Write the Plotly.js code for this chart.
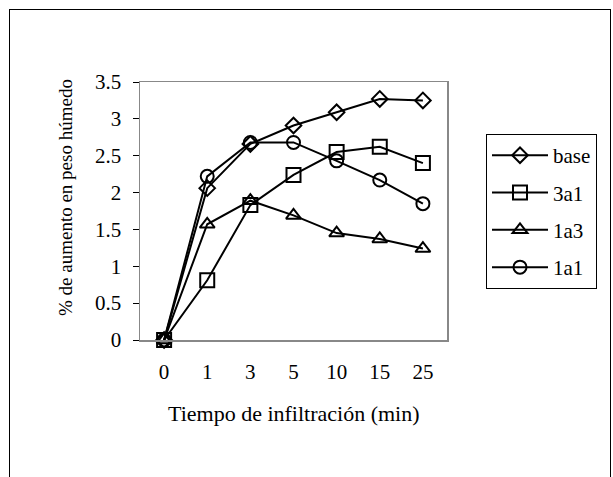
<!DOCTYPE html>
<html><head><meta charset="utf-8">
<script src="https://cdn.plot.ly/plotly-3.0.1.min.js"></script>
<style>
html,body{margin:0;padding:0;background:#fff;}
#frame{position:absolute;left:9px;top:9px;width:602px;height:480px;border:1px solid #000;box-sizing:border-box;}
#chart{position:absolute;left:0;top:0;width:613px;height:477px;}
</style></head>
<body>
<div id="frame"></div>
<div id="chart"></div>
<script>
var categories = ["0","1","3","5","10","15","25"];
var seriesNames = ["base","3a1","1a3","1a1"];
var base = [0, 2.06, 2.66, 2.91, 3.09, 3.27, 3.25];
var s3a1 = [0, 0.81, 1.83, 2.24, 2.55, 2.62, 2.40];
var s1a3 = [0, 1.57, 1.89, 1.69, 1.45, 1.37, 1.24];
var s1a1 = [0, 2.22, 2.68, 2.68, 2.43, 2.17, 1.85];
var yTicks = [0, 0.5, 1, 1.5, 2, 2.5, 3, 3.5];
var xTitle = "Tiempo de infiltración (min)";
var yTitle = "% de aumento en peso húmedo";

var seriesValues = [base, s3a1, s1a3, s1a1];
var symbols = ["diamond-open","square-open","triangle-up-open","circle-open"];
var sizes = [12, 14, 13, 13];
var font = "Liberation Serif, Times New Roman, serif";

var traces = seriesValues.map(function(v, i){
  return {
    x: categories, y: v, name: seriesNames[i], type: "scatter", mode: "lines+markers",
    legendgroup: "g"+i,
    line: {color: "#000", width: 2},
    marker: {symbol: symbols[i], size: sizes[i], color: "#000", line: {color: "#000", width: 2}},
    cliponaxis: false
  };
});

var layout = {
  width: 613, height: 477,
  paper_bgcolor: "rgba(0,0,0,0)", plot_bgcolor: "#fff",
  margin: {l: 140, r: 166, t: 82, b: 137},
  font: {family: font, size: 21, color: "#000"},
  showlegend: true,
  legend: {x: (486-140)/307, y: 0.798, xanchor: "left", yanchor: "top",
    bordercolor: "#000", borderwidth: 1, bgcolor: "#fff", itemwidth: 56,
    tracegroupgap: 7, font: {family: font, size: 21}},
  xaxis: {type: "category", showgrid: false, zeroline: false, showline: true, mirror: true,
    linecolor: "#888", linewidth: 1.5, ticks: "outside", ticklen: 12, tickcolor: "rgba(0,0,0,0)",
    tickfont: {family: font, size: 21}},
  yaxis: {range: [0, 3.5], tickvals: yTicks, ticktext: yTicks.map(String), showgrid: false, zeroline: false,
    showline: true, mirror: true, linecolor: "#888", linewidth: 1.5, ticks: "outside", ticklen: 6,
    ticklabelstandoff: 7, tickcolor: "#000", tickfont: {family: font, size: 21}},
  annotations: [
    {text: xTitle, xref: "paper", yref: "paper", x: 0.5, y: (340-413)/258, xanchor: "center", yanchor: "middle",
     showarrow: false, font: {family: font, size: 22}},
    {text: yTitle, xref: "paper", yref: "paper", x: (65-140)/307, y: (340-198)/258, xanchor: "center", yanchor: "middle",
     textangle: -90, showarrow: false, font: {family: font, size: 19}}
  ]
};
Plotly.newPlot("chart", traces, layout, {displayModeBar: false, staticPlot: true});
</script>
</body></html>
